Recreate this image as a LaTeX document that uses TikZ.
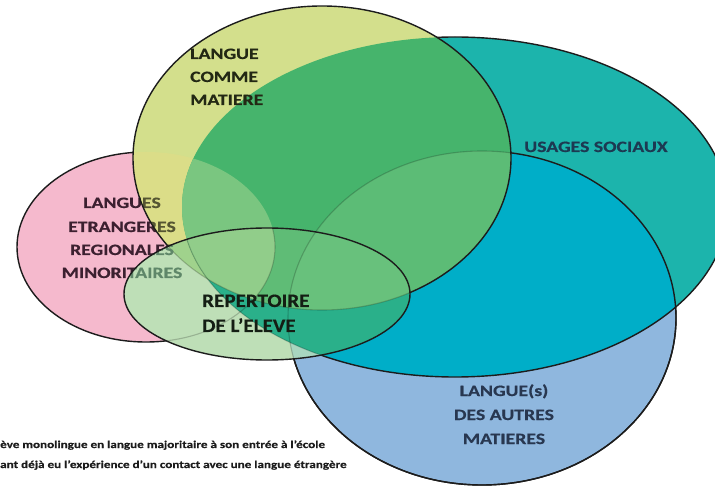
\documentclass[tikz,border=0pt]{standalone}
\usepackage{fontspec}
\setmainfont{Carlito}[BoldFeatures={FakeBold=0.4}]
\definecolor{pinkC}{RGB}{245,185,205}
\definecolor{yelC}{RGB}{211,223,140}
\definecolor{yelpC}{RGB}{219,221,136}
\definecolor{tealC}{RGB}{28,180,172}
\definecolor{greenC}{RGB}{70,180,108}
\definecolor{greenBC}{RGB}{92,188,118}
\definecolor{greenPC}{RGB}{122,198,128}
\definecolor{cyanC}{RGB}{0,174,200}
\definecolor{blueC}{RGB}{143,183,222}
\definecolor{rPale}{RGB}{190,223,183}
\definecolor{rB}{RGB}{168,214,192}
\definecolor{rY}{RGB}{160,210,140}
\definecolor{rT}{RGB}{42,176,138}
\definecolor{rTY}{RGB}{95,188,118}
\definecolor{rTYB}{RGB}{104,193,124}
\definecolor{rTYP}{RGB}{145,205,138}
\definecolor{outC}{RGB}{28,28,28}
\definecolor{txtY}{RGB}{35,40,20}
\definecolor{txtP}{RGB}{60,32,48}
\definecolor{txtPY}{RGB}{85,85,50}
\definecolor{txtPR}{RGB}{95,135,105}
\definecolor{txtR}{RGB}{20,30,20}
\definecolor{txtT}{RGB}{28,58,82}
\definecolor{txtB}{RGB}{40,55,80}
\newcommand\sx[1]{\scalebox{1.25}[1]{#1}}
\newcommand\rx[1]{\scalebox{1.11}[1]{#1}}
\newcommand\pinklines[2]{%
  \node[txt, text=#1, anchor=base] (#2a) at (122,208) {\sx{LANGUES}};
  \node[txt, text=#1, anchor=base] (#2b) at (122,232) {\sx{ETRANGERES}};
  \node[txt, text=#1, anchor=base] (#2c) at (122,255) {\sx{REGIONALES}};
  \node[txt, text=#1, anchor=base] (#2d) at (122,278) {\sx{MINORITAIRES}};}
\tikzset{
  pB/.style={insert path={(482,318) ellipse [x radius=194pt, y radius=167pt]}},
  pT/.style={insert path={(455,207) ellipse [x radius=273pt, y radius=170pt]}},
  pP/.style={insert path={(146,247) ellipse [x radius=129pt, y radius=95pt]}},
  pY/.style={insert path={(322,158) ellipse [x radius=189pt, y radius=152pt]}},
  pR/.style={insert path={(267,294) ellipse [x radius=143pt, y radius=66pt]}},
  outl/.style={draw=outC, line width=1.4pt},
  faint/.style={draw=black, draw opacity=0.2, line width=1.1pt},
  txt/.style={font=\bfseries\fontsize{15.8}{18}\selectfont, inner sep=0pt},
  rtxt/.style={font=\bfseries\fontsize{19}{22}\selectfont, inner sep=0pt, text=txtR},
  captxt/.style={font=\bfseries\fontsize{10.5}{12}\selectfont, inner sep=0pt, text=outC}
}
\begin{document}
\begin{tikzpicture}[x=1pt,y=-1pt]
\useasboundingbox (0,0) rectangle (715,486);
% blue
\fill[blueC, pB];
\draw[outl, pB];
% teal
\fill[tealC, pT];
\begin{scope}
  \clip[pT];
  \fill[cyanC, pB];
\end{scope}
\draw[outl, pB];
\draw[outl, pT];
% pink
\fill[pinkC, pP];
\draw[outl, pP];
\pinklines{txtP}{pk}
% yellow
\fill[yelC, pY];
\begin{scope}
  \clip[pY];
  \fill[yelpC, pP];
  \fill[greenC, pT];
  \begin{scope}
    \clip[pT];
    \fill[greenBC, pB];
    \fill[greenPC, pP];
  \end{scope}
  \draw[faint, pB];
  \pinklines{txtPY}{py}
\end{scope}
\draw[outl, pY];
% repertoire
\fill[rPale, pR];
\begin{scope}
  \clip[pR];
  \fill[rB, pB];
  \fill[rY, pY];
  \fill[rT, pT];
  \begin{scope}
    \clip[pY];
    \fill[rTY, pT];
    \clip[pT];
    \fill[rTYB, pB];
    \fill[rTYP, pP];
  \end{scope}
  \draw[faint, pP];
  \draw[faint, pY];
  \draw[faint, pT];
  \draw[faint, pB];
  \pinklines{txtPR}{pr}
\end{scope}
\draw[outl, pR];
% texts
\node[txt, text=txtY, anchor=base west] (lcm1) at (190,59) {\sx{LANGUE}};
\node[txt, text=txtY, anchor=base west] (lcm2) at (190,82) {\sx{COMME}};
\node[txt, text=txtY, anchor=base west] (lcm3) at (190,105) {\sx{MATIERE}};
\node[txt, text=txtT, anchor=base] (us) at (596,152) {\sx{USAGES SOCIAUX}};
\node[rtxt, anchor=base west] (rep1) at (202,307) {\rx{REPERTOIRE}};
\node[rtxt, anchor=base west] (rep2) at (202,332) {\rx{DE L'ELEVE}};
\node[txt, text=txtB, anchor=base] (lam1) at (504,396) {\sx{LANGUE(s)}};
\node[txt, text=txtB, anchor=base] (lam2) at (504,420) {\sx{DES AUTRES}};
\node[txt, text=txtB, anchor=base] (lam3) at (504,444) {\sx{MATIERES}};
\node[captxt, anchor=base west] (cap1) at (0,448) {\scalebox{1.25}[1]{ève monolingue en langue majoritaire à son entrée à l'école}};
\node[captxt, anchor=base west] (cap2) at (0,468) {\scalebox{1.25}[1]{ant déjà eu l'expérience d'un contact avec une langue étrangère}};
\end{tikzpicture}
\end{document}
